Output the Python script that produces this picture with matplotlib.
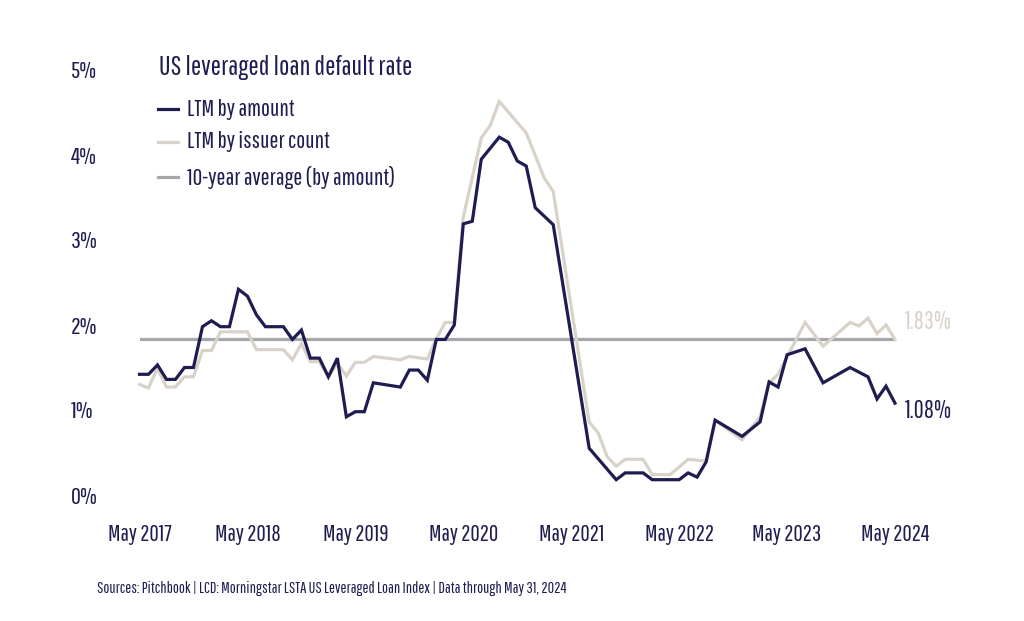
import numpy as np
import matplotlib
matplotlib.use("Agg")
import matplotlib.pyplot as plt
from matplotlib import font_manager as fm
from matplotlib.textpath import TextPath
from matplotlib.lines import Line2D

### data (months counted from May 2017)

amt_month = [0, 1, 2, 3, 4, 5, 6, 7, 8, 9, 10, 11, 12, 13, 14, 16, 17, 18, 19, 20,
             21, 22, 23, 24, 25, 26, 29, 30, 31, 32, 33, 34, 35, 36, 37, 38, 40, 41,
             42, 43, 44, 46, 50, 53, 54, 56, 57, 60, 61, 62, 63, 64, 67, 69, 70, 71,
             72, 74, 76, 79, 81, 82, 83, 84]
amt_rate = [1.42, 1.42, 1.53, 1.36, 1.36, 1.50, 1.50, 1.98, 2.05, 1.98, 1.98, 2.42,
            2.34, 2.12, 1.98, 1.98, 1.83, 1.94, 1.61, 1.61, 1.39, 1.61, 0.92, 0.98,
            0.98, 1.32, 1.27, 1.47, 1.47, 1.35, 1.83, 1.83, 2.00, 3.19, 3.22, 3.95,
            4.21, 4.15, 3.93, 3.87, 3.38, 3.18, 0.55, 0.18, 0.26, 0.26, 0.18, 0.18,
            0.26, 0.21, 0.39, 0.88, 0.69, 0.86, 1.33, 1.27, 1.65, 1.72, 1.32, 1.50,
            1.39, 1.13, 1.28, 1.08]

cnt_month = [0, 1, 2, 3, 4, 5, 6, 7, 8, 9, 12, 13, 16, 17, 18, 19, 20, 21, 22, 23,
             24, 25, 26, 29, 30, 32, 33, 34, 35, 36, 38, 39, 40, 43, 45, 46, 50, 51,
             52, 53, 54, 56, 57, 59, 61, 63, 64, 67, 69, 70, 71, 74, 76, 79, 80, 81,
             82, 83, 84]
cnt_rate = [1.30, 1.26, 1.49, 1.27, 1.27, 1.39, 1.39, 1.70, 1.70, 1.92, 1.92, 1.71,
            1.71, 1.59, 1.78, 1.57, 1.57, 1.39, 1.55, 1.40, 1.56, 1.56, 1.63, 1.59,
            1.63, 1.60, 1.84, 2.03, 2.03, 3.27, 4.20, 4.35, 4.63, 4.26, 3.73, 3.57,
            0.86, 0.73, 0.45, 0.34, 0.42, 0.42, 0.24, 0.24, 0.42, 0.40, 0.88, 0.65,
            0.92, 1.32, 1.42, 2.03, 1.75, 2.03, 1.99, 2.08, 1.90, 2.00, 1.83]

avg_rate = 1.83

tick_months = [0, 12, 24, 36, 48, 60, 72, 84]
tick_labels = ["May 2017", "May 2018", "May 2019", "May 2020",
               "May 2021", "May 2022", "May 2023", "May 2024"]
y_ticks = [0, 1, 2, 3, 4, 5]
y_labels = ["0%", "1%", "2%", "3%", "4%", "5%"]

series_names = ["LTM by amount", "LTM by issuer count", "10-year average (by amount)"]
title = "US leveraged loan default rate"
source = "Sources: Pitchbook | LCD: Morningstar LSTA US Leveraged Loan Index | Data through May 31, 2024"

NAVY = "#1e1c50"
BEIGE = "#d9d2c8"
GREY = "#a5a7ab"

### pick a condensed font if there is one
have = {f.name for f in fm.fontManager.ttflist}
FONT = "DejaVu Sans"
for name in ["Pathway Gothic One", "Roboto Condensed", "Fira Sans Extra Condensed",
             "Liberation Sans Narrow", "Oswald"]:
    if name in have:
        FONT = name
        break
WEIGHT = "normal"
plt.rcParams['font.family'] = [FONT, 'DejaVu Sans']
plt.rcParams['font.weight'] = WEIGHT


def fit(text, px):
    # font size (pt) that makes text about px pixels wide at dpi 100
    prop = fm.FontProperties(family=[FONT, 'DejaVu Sans'], weight=WEIGHT)
    w = TextPath((0, 0), text, size=100, prop=prop).get_extents().width
    return px / (w / 100 * 100 / 72)


W, H = 1024, 621
fig = plt.figure(figsize=(W / 100, H / 100), dpi=100)
# axes box: x 0..84 -> px 139.5..895 ; y 0..5 -> px 495..70
x0, x1, y0, y1 = 139.5, 895, 495, 70
ax = fig.add_axes([x0 / W, 1 - y0 / H, (x1 - x0) / W, (y0 - y1) / H])
ax.set_xlim(0, 84)
ax.set_ylim(0, 5)

ax.plot(amt_month, amt_rate, color=NAVY, lw=2.3, clip_on=False,
        solid_joinstyle="miter", zorder=3)
ax.plot(cnt_month, cnt_rate, color=BEIGE, lw=2.3, clip_on=False,
        solid_joinstyle="miter", zorder=2)
ax.axhline(avg_rate, color=GREY, lw=2.3, zorder=1)

for s in ax.spines.values():
    s.set_visible(False)

ax.set_xticks(tick_months)
ax.set_xticklabels(tick_labels)
ax.set_yticks(y_ticks)
ax.set_yticklabels(y_labels, ha="left")
ax.tick_params(axis="both", length=0, colors=NAVY)
ax.tick_params(axis="x", labelsize=fit("May 2017", 62), pad=21)
ax.tick_params(axis="y", labelsize=fit("5%", 24), pad=(x0 - 71) * 0.72)

# end labels
end_fs = fit("1.08%", 46)
ax.annotate("1.83%", (84, cnt_rate[-1]), xytext=(7, 12.5), textcoords="offset points",
            color=BEIGE, fontsize=end_fs, va="center", ha="left", annotation_clip=False)
ax.annotate("1.08%", (84, amt_rate[-1]), xytext=(7, -5.5), textcoords="offset points",
            color=NAVY, fontsize=end_fs, va="center", ha="left", annotation_clip=False)

# legend block, laid out by hand
fig.text(159 / W, 1 - 68 / H, title, color=NAVY, fontsize=fit(title, 250),
         va="center", ha="left")
leg_fs = fit(series_names[0], 106)
for name, col, ypx in zip(series_names, [NAVY, BEIGE, GREY], [109, 142, 177]):
    fig.add_artist(Line2D([158 / W, 178 / W], [1 - ypx / H, 1 - ypx / H],
                          color=col, lw=2.3, transform=fig.transFigure))
    fig.text(187 / W, 1 - ypx / H, name, color=NAVY, fontsize=leg_fs,
             va="center", ha="left")

fig.text(97 / W, 1 - 588 / H, source, color=NAVY, fontsize=fit(source, 470),
         va="center", ha="left")

plt.savefig("out.png", dpi=100)
